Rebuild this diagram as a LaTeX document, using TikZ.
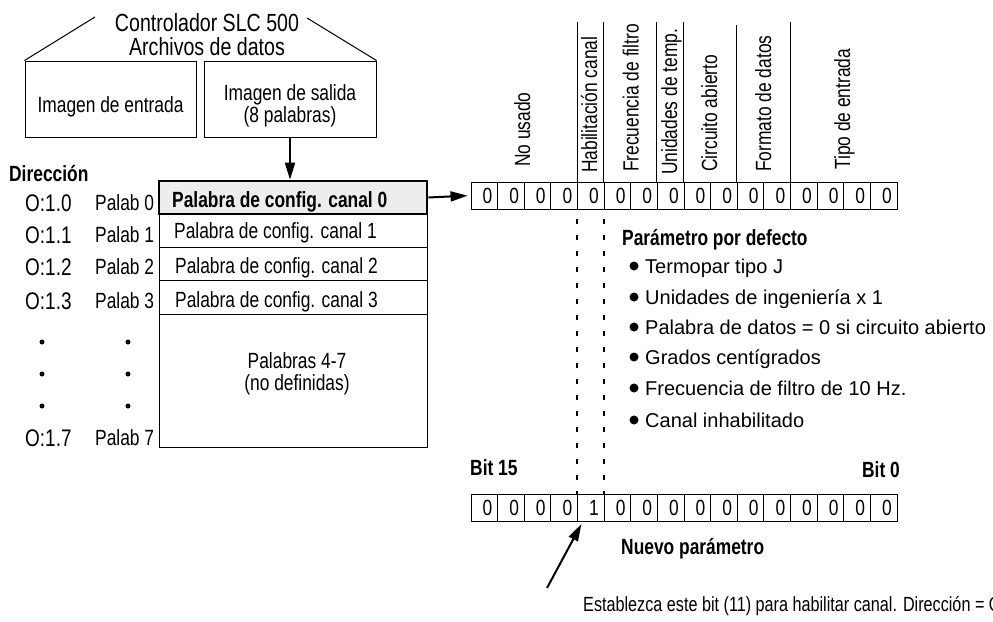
\documentclass[tikz,border=0pt]{standalone}
\usepackage{fontspec}
\setmainfont{Liberation Sans}[FakeStretch=0.79]
\newfontfamily\widefam{Liberation Sans}
\usetikzlibrary{arrows.meta}
\newcommand\bodyfont{\fontsize{22}{26}\selectfont}
\newcommand\addrfont{\fontsize{24}{26}\selectfont}
\newcommand\titlefont{\fontsize{24.8}{27}\selectfont}
\newcommand\listfont{\widefam\fontsize{20}{24}\selectfont}
\newcommand\notefont{\fontsize{20.5}{24}\selectfont}
\begin{document}
\begin{tikzpicture}[x=1pt,y=-1pt,
  txt/.style={font=\bodyfont, inner sep=0pt, anchor=base west},
  boldtxt/.style={txt, font=\bodyfont\bfseries},
  addr/.style={txt, font=\addrfont},
  ctxt/.style={font=\bodyfont, inner sep=0pt, anchor=base},
  box/.style={draw, line width=1pt, inner sep=0pt},
  cell/.style={draw, line width=0.9pt, minimum width=26.625pt, minimum height=27pt, inner sep=0pt},
  digit/.style={font=\bodyfont, inner sep=0pt},
  field/.style={font=\bodyfont, inner sep=0pt, anchor=base west, rotate=90},
  sep/.style={line width=1pt},
  guide/.style={line width=1.8pt, dash pattern=on 5pt off 11pt, dash phase=6pt},
  arr/.style={line width=2pt, -{Triangle[length=17pt,width=10pt]}},
  dot/.style={circle, fill, inner sep=0pt, minimum size=5pt},
  bullet/.style={circle, fill, inner sep=0pt, minimum size=9pt},
]
\useasboundingbox (0,0) rectangle (993,621);
\clip (0,0) rectangle (993,621);

% ---- data files of the controller ----
\node[ctxt, font=\titlefont] (title1) at (207,31.5) {Controlador SLC 500};
\node[ctxt, font=\titlefont] (title2) at (207,55) {Archivos de datos};
\node[box, minimum width=171pt, minimum height=76pt] (inbox) at (110.5,99) {};
\node[box, minimum width=172pt, minimum height=76pt] (outbox) at (290,99) {};
\node[ctxt] (intext) at (110.5,112) {Imagen de entrada};
\node[ctxt] (outtext1) at (290,100) {Imagen de salida};
\node[ctxt] (outtext2) at (290,122) {(8 palabras)};
\coordinate (braceL) at (95,17);
\coordinate (braceR) at (307,18);
\draw[sep] (inbox.north west) -- (braceL);
\draw[sep] (outbox.north east) -- (braceR);

% ---- output image table ----
\node[box, minimum width=268pt, minimum height=133pt] (wrest) at (293,380.5) {};
\node[box, minimum width=268pt, minimum height=33.5pt] (w3) at (293,297.5) {};
\node[box, minimum width=268pt, minimum height=33.5pt] (w2) at (293,264) {};
\node[box, minimum width=268pt, minimum height=33pt] (w1) at (293,230.5) {};
\node[box, fill=black!7, line width=2.6pt, minimum width=268pt, minimum height=33pt] (w0) at (293,197.5) {};
\draw[arr] (outbox.south) -- (outbox.south |- w0.north);

\node[boldtxt] (t0) at (172,207) {Palabra de config. canal 0};
\node[txt] (t1) at (174,238) {Palabra de config. canal 1};
\node[txt] (t2) at (175,273.5) {Palabra de config. canal 2};
\node[txt] (t3) at (175,307) {Palabra de config. canal 3};
\node[ctxt] (t4a) at (297,368) {Palabras 4-7};
\node[ctxt] (t4b) at (297,390) {(no definidas)};

% ---- addresses ----
\node[boldtxt] (dir) at (9,181) {Dirección};
\node[addr] (a0) at (25,211) {O:1.0};
\node[addr] (a1) at (25,243) {O:1.1};
\node[addr] (a2) at (25,275.5) {O:1.2};
\node[addr] (a3) at (25,309.5) {O:1.3};
\node[addr] (a7) at (25,446.5) {O:1.7};
\node[txt] (p0) at (95,210) {Palab 0};
\node[txt] (p1) at (95,242) {Palab 1};
\node[txt] (p2) at (95,274.5) {Palab 2};
\node[txt] (p3) at (95,308) {Palab 3};
\node[txt] (p7) at (95,445) {Palab 7};
\foreach \yy [count=\i] in {342,374,406} {
  \node[dot] (da\i) at (42,\yy) {};
  \node[dot] (dp\i) at (128,\yy) {};
}

% ---- configuration word, default ----
\foreach \k in {0,...,15} {
  \node[cell] (u\k) at ({484.31+26.625*\k},195.5) {};
  \node[digit] (ud\k) at ({487.5+26.625*\k},196) {0};
}
\draw[arr, shorten >=3pt] (w0.east) -- (u0.west);

% field boundaries above the word
\foreach \k/\top in {4/22,5/22,7/22,8/22,10/25,12/22} {
  \draw[sep] (u\k.north west) -- (u\k.north west |- 0,\top);
}
\node[field] (f1) at (530,167) {No usado};
\node[field] (f2) at (597,173) {Habilitación canal};
\node[field] (f3) at (638.5,172) {Frecuencia de filtro};
\node[field] (f4) at (677,175) {Unidades de temp.};
\node[field] (f5) at (717,172) {Circuito abierto};
\node[field] (f6) at (771,172) {Formato de datos};
\node[field] (f7) at (850,170) {Tipo de entrada};

% ---- default settings ----
\node[boldtxt] (def) at (622,245) {Parámetro por defecto};
\foreach \yy/\txt [count=\i] in {
  266/Termopar tipo J,
  297/Unidades de ingeniería x 1,
  327/Palabra de datos = 0 si circuito abierto,
  357/Grados centígrados,
  388/Frecuencia de filtro de 10 Hz.,
  420/Canal inhabilitado} {
  \node[bullet] (b\i) at (634,\yy) {};
  \node[txt, font=\listfont] (bt\i) at (645,\yy+7) {\txt};
}

% ---- configuration word, new ----
\foreach \k in {0,...,15} {
  \node[cell] (l\k) at ({484.31+26.625*\k},507.5) {};
  \node[digit] (ld\k) at ({487.5+26.625*\k},508) {\ifnum\k=4 1\else 0\fi};
}
\draw[guide] (u4.south west) -- (l4.north west);
\draw[guide] (u5.south west) -- (l5.north west);

\node[boldtxt] (bit15) at (470,475) {Bit 15};
\node[boldtxt, anchor=base east] (bit0) at (900,477) {Bit 0};
\node[boldtxt] (nuevo) at (621,554) {Nuevo parámetro};

\node[txt, font=\notefont] (note) at (583,611) {Establezca este bit (11) para habilitar canal. Dirección = O:1.0};
\coordinate (noteTail) at (547,588);
\draw[arr, shorten >=3pt] (noteTail) -- ([xshift=-8pt]l4.south);
\end{tikzpicture}
\end{document}
